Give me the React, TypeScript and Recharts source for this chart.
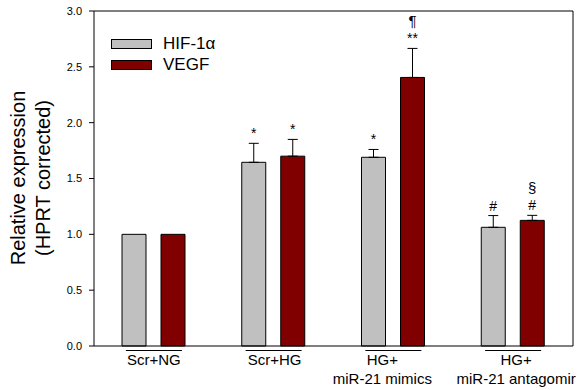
import {
  Bar,
  BarChart,
  ErrorBar,
  LabelList,
  Legend,
  ReferenceLine,
  XAxis,
  YAxis,
} from 'recharts';

const categories = ['Scr+NG', 'Scr+HG', 'HG+\nmiR-21 mimics', 'HG+\nmiR-21 antagomir'];
const hifValues = [1.0, 1.645, 1.69, 1.063];
const hifErrors = [0, 0.17, 0.07, 0.105];
const vegfValues = [1.0, 1.7, 2.405, 1.125];
const vegfErrors = [0, 0.15, 0.26, 0.045];
const hifNotes = ['', '*', '*', '#'];
const vegfNotes = ['', '*', '**|¶', '#|§'];
const yTicks = [0, 0.5, 1.0, 1.5, 2.0, 2.5, 3.0];

const FONT = "Arial, 'Liberation Sans', sans-serif";
const GRAY = '#c0c0c0';
const RED = '#800000';

// upward-only error bars; no bar at all when the error is 0 (control group)
const data = categories.map((name, i) => ({
  name,
  hif: hifValues[i],
  hifErr: hifErrors[i] ? [0, hifErrors[i]] : null,
  hifNote: hifNotes[i],
  vegf: vegfValues[i],
  vegfErr: vegfErrors[i] ? [0, vegfErrors[i]] : null,
  vegfNote: vegfNotes[i],
}));

// label x shifts, the original has the mimics text a bit off centre
const TICK_SHIFT = [0, 1, -11, 3];

function CategoryTick(props: any) {
  const { x, y, payload, index } = props;
  const lines = String(payload.value).split('\n');
  const dx = TICK_SHIFT[index] ?? 0;
  return (
    <g>
      <line x1={x - 28} x2={x + 28} y1={y + 4.5} y2={y + 4.5} stroke="#000" strokeWidth={1} />
      {lines.map((t, i) => (
        <text
          key={i}
          x={x + dx}
          y={y + 19 + i * 19}
          textAnchor="middle"
          fontSize={15}
          fontFamily={FONT}
          fill="#000"
        >
          {t}
        </text>
      ))}
    </g>
  );
}

function makeNote(values: number[], errors: number[]) {
  return (props: any) => {
    const { x, y, width, height, value, index } = props;
    if (!value) return null;
    const v = values[index];
    const errTop = y - (errors[index] * height) / v;
    const parts = String(value).split('|');
    return (
      <g>
        {parts.map((p, i) => (
          <text
            key={i}
            x={x + width / 2}
            y={errTop - 5 - i * 17}
            textAnchor="middle"
            fontSize={p === '¶' || p === '§' ? 15 : 14}
            fontFamily={FONT}
            fill="#000"
          >
            {p}
          </text>
        ))}
      </g>
    );
  };
}

function LegendBox() {
  const items = [
    { label: 'HIF-1α', color: GRAY },
    { label: 'VEGF', color: RED },
  ];
  return (
    <div style={{ fontFamily: FONT }}>
      {items.map((it) => (
        <div
          key={it.label}
          style={{ display: 'flex', alignItems: 'center', height: 21, lineHeight: '21px' }}
        >
          <span
            style={{
              display: 'inline-block',
              width: 39,
              height: 8,
              background: it.color,
              border: '1px solid #000',
              marginRight: 11,
            }}
          />
          <span style={{ fontSize: 17, color: '#000' }}>{it.label}</span>
        </div>
      ))}
    </div>
  );
}

function YLabel() {
  return (
    <g fontFamily={FONT} fontSize={20} fill="#000">
      <text x={25} y={178} textAnchor="middle" transform="rotate(-90 25 178)">
        Relative expression
      </text>
      <text x={50} y={178} textAnchor="middle" transform="rotate(-90 50 178)">
        (HPRT corrected)
      </text>
    </g>
  );
}

export default function App() {
  return (
    <div style={{ position: 'absolute', left: 0, top: 0, background: '#fff' }}>
      <BarChart
        width={581}
        height={390}
        data={data}
        margin={{ top: 11, right: 0, left: 0, bottom: 0 }}
        barSize={24}
        barGap={15}
      >
        <XAxis
          dataKey="name"
          height={44}
          axisLine={{ stroke: '#000' }}
          tickLine={false}
          tickSize={0}
          tickMargin={0}
          tick={<CategoryTick />}
          interval={0}
        />
        <YAxis
          width={94}
          domain={[0, 3]}
          ticks={yTicks}
          tickFormatter={(v: number) => v.toFixed(1)}
          axisLine={{ stroke: '#000' }}
          tickLine={{ stroke: '#000' }}
          tickSize={5}
          tickMargin={7}
          tick={{ fontSize: 11, fontFamily: FONT, fill: '#000' }}
          label={<YLabel />}
        />
        <YAxis
          yAxisId="right"
          orientation="right"
          width={8}
          domain={[0, 3]}
          tick={false}
          tickLine={false}
          axisLine={{ stroke: '#000' }}
        />
        <ReferenceLine y={3} stroke="#000" ifOverflow="extendDomain" />
        <Legend
          layout="vertical"
          verticalAlign="middle"
          align="center"
          content={<LegendBox />}
          wrapperStyle={{ left: 111, top: 33, width: 120 }}
        />
        <Bar dataKey="hif" name="HIF-1α" fill={GRAY} stroke="#000" strokeWidth={1} isAnimationActive={false}>
          <ErrorBar dataKey="hifErr" width={5} stroke="#000" strokeWidth={1} />
          <LabelList dataKey="hifNote" content={makeNote(hifValues, hifErrors)} />
        </Bar>
        <Bar dataKey="vegf" name="VEGF" fill={RED} stroke="#000" strokeWidth={1} isAnimationActive={false}>
          <ErrorBar dataKey="vegfErr" width={5} stroke="#000" strokeWidth={1} />
          <LabelList dataKey="vegfNote" content={makeNote(vegfValues, vegfErrors)} />
        </Bar>
      </BarChart>
    </div>
  );
}
